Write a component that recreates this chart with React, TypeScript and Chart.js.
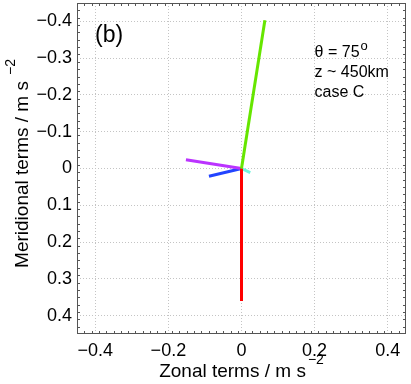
import React, { useEffect, useRef } from 'react';
import { Chart, registerables } from 'chart.js';

Chart.register(...registerables);

// ---- data ----
const termNames = ['term 1', 'term 2', 'term 3', 'term 4', 'term 5'];
const zonalTerms = [0.064, 0.0, -0.152, -0.089, 0.024];
const meridionalTerms = [-0.403, 0.36, -0.024, 0.021, 0.011];
const termColors = ['#66e600', '#ff0000', '#bb33ff', '#2244ff', '#70f5dc'];
const xTickValues = [-0.4, -0.2, 0, 0.2, 0.4];
const yTickValues = [-0.4, -0.3, -0.2, -0.1, 0, 0.1, 0.2, 0.3, 0.4];
const axisMin = -0.45;
const axisMax = 0.45;
const minorStep = 0.02;
const panelLabel = '(b)';
const annotationLines = ['θ = 75', 'z ~ 450km', 'case C'];
const annotationSup = 'o';
const xTitle = 'Zonal terms / m s';
const yTitle = 'Meridional terms / m s';
const titleSup = '−2';

const FONT = '"Liberation Sans", Arial, Helvetica, sans-serif';

const fmt = (v: number) => {
  if (Math.abs(v) < 1e-9) return '0';
  return (v < 0 ? '−' : '') + Math.abs(v).toFixed(1);
};

const framePlugin = {
  id: 'framePlugin',
  afterDraw(chart: any) {
    const { ctx, chartArea } = chart;
    const { left, right, top, bottom } = chartArea;
    const xs = chart.scales.x;
    const ys = chart.scales.y;
    ctx.save();
    // frame
    ctx.strokeStyle = '#555';
    ctx.lineWidth = 1;
    ctx.strokeRect(left + 0.5, top + 0.5, right - left - 1, bottom - top - 1);
    // ticks
    ctx.beginPath();
    const n = Math.round((axisMax - axisMin) / minorStep);
    for (let i = 0; i <= n; i++) {
      const v = Math.round((axisMin + i * minorStep) * 1000) / 1000;
      if (v <= axisMin || v >= axisMax) continue;
      const majX = xTickValues.some((t) => Math.abs(t - v) < 1e-6);
      const majY = yTickValues.some((t) => Math.abs(t - v) < 1e-6);
      const px = Math.round(xs.getPixelForValue(v)) + 0.5;
      const py = Math.round(ys.getPixelForValue(v)) + 0.5;
      const lx = majX ? 5 : 3;
      const ly = majY ? 5 : 3;
      ctx.moveTo(px, bottom);
      ctx.lineTo(px, bottom - lx);
      ctx.moveTo(px, top);
      ctx.lineTo(px, top + lx);
      ctx.moveTo(left, py);
      ctx.lineTo(left + ly, py);
      ctx.moveTo(right, py);
      ctx.lineTo(right - ly, py);
    }
    ctx.stroke();

    ctx.fillStyle = '#000';
    ctx.textBaseline = 'alphabetic';
    // panel label
    ctx.font = `23px ${FONT}`;
    ctx.textAlign = 'left';
    ctx.fillText(panelLabel, left + 18, top + 39);

    // annotation
    const ax = xs.getPixelForValue(0.2);
    const ay = ys.getPixelForValue(-0.3);
    annotationLines.forEach((line, i) => {
      ctx.font = `16px ${FONT}`;
      ctx.fillText(line, ax, ay - 1 + i * 20);
      if (i === 0) {
        const w = ctx.measureText(line).width;
        ctx.font = `13px ${FONT}`;
        ctx.fillText(annotationSup, ax + w + 1, ay - 8);
      }
    });

    // x title
    ctx.font = `19px ${FONT}`;
    const wMain = ctx.measureText(xTitle).width;
    ctx.font = `14px ${FONT}`;
    const wSup = ctx.measureText(titleSup).width;
    const totalX = wMain + 2 + wSup;
    const cx = (left + right) / 2 - totalX / 2;
    ctx.font = `19px ${FONT}`;
    ctx.fillText(xTitle, cx, 377);
    ctx.font = `14px ${FONT}`;
    ctx.fillText(titleSup, cx + wMain + 2, 364);

    // y title
    ctx.save();
    const cy = (top + bottom) / 2 - 5;
    ctx.translate(28, cy);
    ctx.rotate(-Math.PI / 2);
    ctx.font = `19px ${FONT}`;
    const yMain = ctx.measureText(yTitle).width;
    const totalY = yMain + 6 + wSup;
    ctx.fillText(yTitle, -totalY / 2, 0);
    ctx.font = `14px ${FONT}`;
    ctx.fillText(titleSup, -totalY / 2 + yMain + 6, -13);
    ctx.restore();

    ctx.restore();
  },
};

export default function App() {
  const ref = useRef<HTMLCanvasElement | null>(null);

  useEffect(() => {
    document.body.style.margin = '0';
    const canvas = ref.current;
    if (!canvas) return;
    const datasets = termNames.map((name, i) => ({
      label: name,
      data: [
        { x: 0, y: 0 },
        { x: zonalTerms[i], y: meridionalTerms[i] },
      ],
      showLine: true,
      borderColor: termColors[i],
      backgroundColor: termColors[i],
      borderWidth: 3,
      pointRadius: 0,
      borderCapStyle: 'butt' as const,
    }));

    const tickFont = { size: 18, family: FONT };

    const chart = new Chart(canvas, {
      type: 'scatter',
      data: { datasets },
      plugins: [framePlugin],
      options: {
        animation: false,
        responsive: false,
        devicePixelRatio: 1,
        layout: { padding: { top: 3, right: 5, left: 0, bottom: 0 } },
        plugins: {
          legend: { display: false },
          tooltip: { enabled: false },
        },
        scales: {
          x: {
            type: 'linear',
            min: axisMin,
            max: axisMax,
            afterBuildTicks: (s: any) => {
              s.ticks = xTickValues.map((value) => ({ value }));
            },
            afterFit: (s: any) => {
              s.height = 50;
              s.paddingLeft = 0;
              s.paddingRight = 0;
            },
            ticks: {
              callback: (v: any) => fmt(Number(v)),
              font: tickFont,
              color: '#000',
              padding: 6,
              maxRotation: 0,
              autoSkip: false,
            },
            grid: { color: '#c4c4c4', lineWidth: 1, drawTicks: false },
            border: { display: false, dash: [1, 2] },
          },
          y: {
            type: 'linear',
            reverse: true,
            min: axisMin,
            max: axisMax,
            afterBuildTicks: (s: any) => {
              s.ticks = yTickValues.map((value) => ({ value }));
            },
            afterFit: (s: any) => {
              s.width = 77;
              s.paddingTop = 0;
              s.paddingBottom = 0;
            },
            ticks: {
              callback: (v: any) => fmt(Number(v)),
              font: tickFont,
              color: '#000',
              padding: 5,
              autoSkip: false,
            },
            grid: { color: '#c4c4c4', lineWidth: 1, drawTicks: false },
            border: { display: false, dash: [1, 2] },
          },
        },
      },
    });
    return () => chart.destroy();
  }, []);

  return (
    <div style={{ position: 'absolute', left: 0, top: 0, width: 411, height: 384 }}>
      <canvas ref={ref} width={411} height={384} style={{ width: 411, height: 384 }} />
    </div>
  );
}
